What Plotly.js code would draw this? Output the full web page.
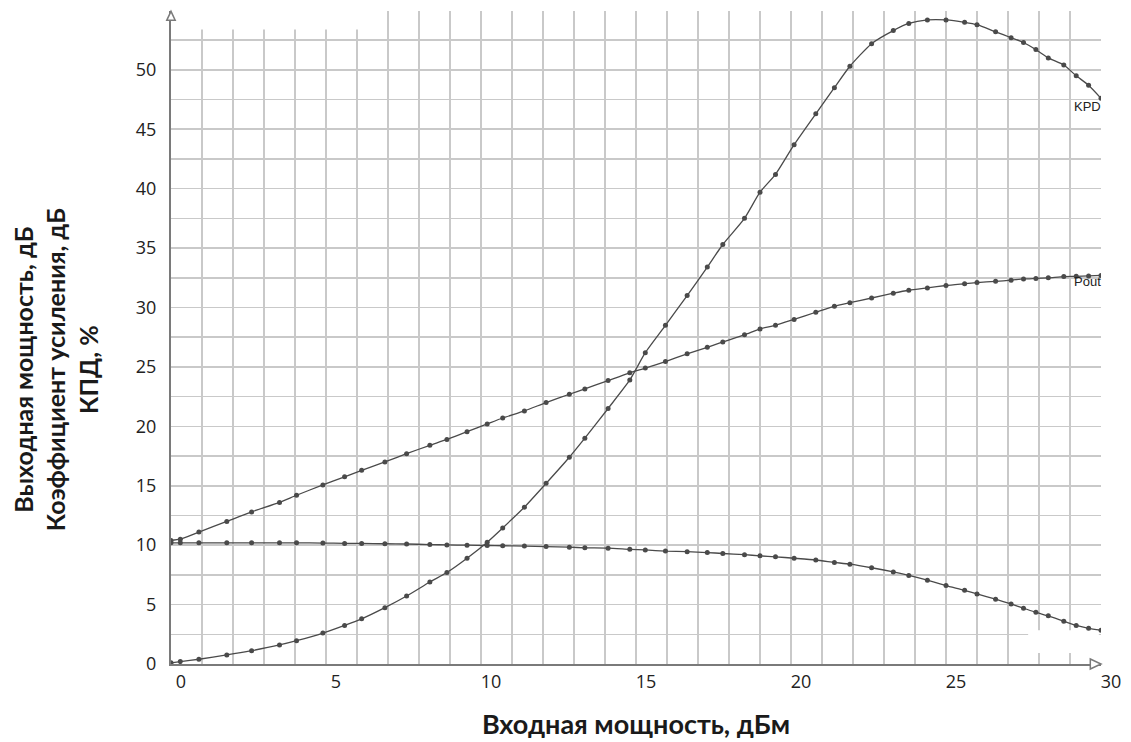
<!DOCTYPE html>
<html>
<head>
<meta charset="utf-8">
<script src="https://cdn.plot.ly/plotly-3.0.1.min.js"></script>
<style>html,body{margin:0;padding:0;background:#fff;}#chart{width:1131px;height:742px;}</style>
</head>
<body>
<div id="chart"></div>
<script>
// Input power, dBm (shared sample points)
const inputPower = [0, 0.3, 0.9, 1.8, 2.6, 3.5, 4.05, 4.9, 5.6, 6.15, 6.9, 7.6, 8.35, 8.9, 9.55, 10.2, 10.7, 11.4, 12.1, 12.85, 13.35, 14.1, 14.8, 15.3, 15.95, 16.65, 17.3, 17.8, 18.5, 19.0, 19.5, 20.1, 20.8, 21.4, 21.9, 22.6, 23.3, 23.8, 24.4, 25.0, 25.6, 26.0, 26.6, 27.1, 27.5, 27.9, 28.3, 28.8, 29.2, 29.6, 30];
// Efficiency (KPD), %
const kpd = [0.1, 0.2, 0.4, 0.76, 1.12, 1.6, 1.96, 2.6, 3.25, 3.8, 4.74, 5.72, 6.9, 7.7, 8.9, 10.25, 11.45, 13.2, 15.2, 17.4, 19.0, 21.5, 23.9, 26.2, 28.5, 31.0, 33.4, 35.3, 37.5, 39.7, 41.2, 43.7, 46.3, 48.5, 50.3, 52.2, 53.3, 53.9, 54.2, 54.2, 54.0, 53.8, 53.2, 52.7, 52.3, 51.7, 51.0, 50.4, 49.5, 48.7, 47.6];
// Output power (Pout), dB
const pout = [10.4, 10.5, 11.1, 12.0, 12.8, 13.6, 14.2, 15.07, 15.75, 16.3, 17.0, 17.7, 18.4, 18.9, 19.55, 20.2, 20.7, 21.3, 22.0, 22.7, 23.15, 23.85, 24.5, 24.9, 25.45, 26.1, 26.65, 27.1, 27.7, 28.2, 28.5, 29.0, 29.6, 30.1, 30.4, 30.8, 31.2, 31.45, 31.65, 31.85, 32.0, 32.1, 32.2, 32.3, 32.4, 32.45, 32.5, 32.6, 32.62, 32.66, 32.7];
// Gain, dB
const gain = [10.2, 10.2, 10.2, 10.2, 10.2, 10.2, 10.2, 10.18, 10.15, 10.15, 10.12, 10.1, 10.05, 10.02, 10.0, 9.97, 9.95, 9.92, 9.88, 9.83, 9.78, 9.75, 9.65, 9.6, 9.5, 9.45, 9.38, 9.3, 9.2, 9.1, 9.02, 8.9, 8.75, 8.55, 8.4, 8.1, 7.75, 7.45, 7.05, 6.6, 6.2, 5.9, 5.45, 5.05, 4.7, 4.35, 4.05, 3.6, 3.25, 3.0, 2.85];

const xTitle = 'Входная мощность, дБм';
const yTitleLines = ['Выходная мощность, дБ', 'Коэффициент усиления, дБ', 'КПД, %'];
const curveLabels = ['KPD', 'Pout'];

const lineStyle = {color: '#4a4a4a', width: 1.3, shape: 'spline', smoothing: 0.6};
const markerStyle = {symbol: 'circle', size: 5, color: '#4a4a4a'};

const traces = [
  {x: inputPower, y: kpd, name: 'KPD', mode: 'lines+markers', line: lineStyle, marker: markerStyle},
  {x: inputPower, y: pout, name: 'Pout', mode: 'lines+markers', line: lineStyle, marker: markerStyle},
  {x: inputPower, y: gain, name: 'Gain', mode: 'lines+markers', line: lineStyle, marker: markerStyle}
];

const gridColor = '#c9c9c9';
const axisColor = '#7a7a7a';
const tickFont = {family: 'Open Sans, sans-serif', size: 18, color: '#222'};

const layout = {
  width: 1131, height: 742,
  margin: {l: 171, r: 30, t: 11, b: 78, pad: 0},
  paper_bgcolor: '#fff', plot_bgcolor: '#fff',
  showlegend: false,
  font: {family: 'Open Sans, sans-serif'},
  xaxis: {
    range: [0, 30], dtick: 5, tick0: 0,
    showgrid: true, gridcolor: gridColor, gridwidth: 1.5,
    minor: {dtick: 1, showgrid: true, gridcolor: gridColor, gridwidth: 1.5},
    zeroline: false, showline: true, linecolor: axisColor, linewidth: 2,
    ticks: '', tickfont: tickFont, ticklabelshift: 10, ticklabelstandoff: 0,
    title: {text: xTitle, font: {family: 'Lato, sans-serif', size: 27, color: '#1a1a1a', weight: 'bold'}, standoff: 24}
  },
  yaxis: {
    range: [0, 54.95], dtick: 5, tick0: 0,
    showgrid: true, gridcolor: gridColor, gridwidth: 1.5,
    minor: {dtick: 2.5, showgrid: true, gridcolor: gridColor, gridwidth: 1.5},
    zeroline: false, showline: true, linecolor: axisColor, linewidth: 2,
    ticks: '', tickfont: tickFont, ticklabelstandoff: 9
  },
  shapes: [
    // blank strip at top-left (no grid)
    {type: 'rect', xref: 'x', yref: 'y', x0: 0.05, x1: 6.5, y0: 53.4, y1: 54.95, fillcolor: '#fff', line: {width: 0}, layer: 'between'},
    // blank patch at bottom-right
    {type: 'rect', xref: 'x', yref: 'y', x0: 27.65, x1: 29.93, y0: 0.92, y1: 2.85, fillcolor: '#fff', line: {width: 0}, layer: 'between'},
    // x-axis arrow
    {type: 'path', xref: 'paper', yref: 'paper', path: 'M 0.9885 0.0077 L 1.0 0 L 0.9885 -0.0077 Z', fillcolor: '#fff', line: {color: axisColor, width: 1.5}},
    // y-axis arrow
    {type: 'path', xref: 'paper', yref: 'paper', path: 'M -0.0045 0.986 L 0 0.9995 L 0.0045 0.986 Z', fillcolor: '#fff', line: {color: axisColor, width: 1.5}}
  ],
  annotations: [
    {xref: 'paper', yref: 'paper', x: 0, y: 0.45, xshift: -116, xanchor: 'center', yanchor: 'middle',
     textangle: -90, showarrow: false, align: 'center',
     text: yTitleLines.join('<br>'),
     font: {family: 'Lato, sans-serif', size: 25, color: '#1a1a1a', weight: 'bold'}},
    {xref: 'x', yref: 'y', x: 30, y: 46.9, xanchor: 'right', yanchor: 'middle', showarrow: false, xshift: 2,
     text: curveLabels[0], font: {family: 'Liberation Sans, Arial, sans-serif', size: 13, color: '#222'}},
    {xref: 'x', yref: 'y', x: 30, y: 32.2, xanchor: 'right', yanchor: 'middle', showarrow: false, xshift: 2,
     text: curveLabels[1], font: {family: 'Liberation Sans, Arial, sans-serif', size: 13, color: '#222'}}
  ]
};

Plotly.newPlot('chart', traces, layout, {displayModeBar: false, staticPlot: true});
</script>
</body>
</html>
